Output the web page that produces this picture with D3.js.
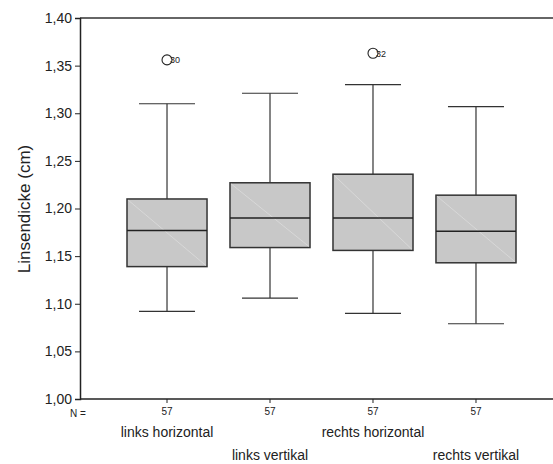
<!DOCTYPE html>
<html><head><meta charset="utf-8">
<script src="https://cdn.jsdelivr.net/npm/d3@7"></script>
<style>body{margin:0;background:#fff}svg{display:block}text{font-family:"Liberation Sans",Arial,sans-serif;fill:#222}</style>
</head><body><svg id="c" width="553" height="464"></svg>
<script>
const categories = ["links horizontal","links vertikal","rechts horizontal","rechts vertikal"];
const nValues = [57,57,57,57];
const whiskerLow = [1.092,1.106,1.090,1.079];
const q1 = [1.139,1.159,1.156,1.143];
const median = [1.177,1.190,1.190,1.176];
const q3 = [1.210,1.227,1.236,1.214];
const whiskerHigh = [1.310,1.321,1.330,1.307];
const outliers = [{cat:0,value:1.356,label:"30"},{cat:2,value:1.363,label:"32"}];
const yTicks = [1.00,1.05,1.10,1.15,1.20,1.25,1.30,1.35,1.40];

(function(){
const svg = d3.select("#c");
const mLeft = 80, mRight = 553, mTop = 18, mBottom = 399;
const y = d3.scaleLinear().domain([1.0,1.4]).range([mBottom, mTop]);
const x = d3.scaleBand().domain(categories).range([127, 516]).paddingInner(0.223).paddingOuter(0);
const fmt = d => d3.format(".2f")(d).replace(".", ",");

svg.append("line").attr("x1",mLeft).attr("x2",mRight).attr("y1",mTop).attr("y2",mTop).attr("stroke","#333").attr("stroke-width",1.5);

const yAxis = svg.append("g").attr("transform",`translate(${mLeft},0)`)
  .call(d3.axisLeft(y).tickValues(yTicks).tickFormat(fmt).tickSize(5).tickPadding(3));
yAxis.select(".domain").attr("stroke","#222").attr("stroke-width",1.5);
yAxis.selectAll(".tick line").attr("stroke","#222");
yAxis.selectAll("text").attr("font-size",14).style("font-family","Liberation Sans, Arial, sans-serif").attr("fill","#222");

const xAxis = svg.append("g").attr("transform",`translate(0,${mBottom})`)
  .call(d3.axisBottom(x).tickSize(4).tickFormat((d,i)=>nValues[i]).tickPadding(5));
xAxis.select(".domain").attr("d",`M${mLeft},0H${mRight}`).attr("stroke","#222").attr("stroke-width",1.5);
xAxis.selectAll(".tick line").attr("stroke","#222");
xAxis.selectAll("text").attr("font-size",10).style("font-family","Liberation Sans, Arial, sans-serif").attr("fill","#222");

svg.append("text").attr("x",78).attr("y",417).attr("text-anchor","middle").attr("font-size",10).text("N =");

categories.forEach((c,i)=>{
  svg.append("text").attr("x",x(c)+x.bandwidth()/2).attr("y", i%2===0 ? 437 : 460)
    .attr("text-anchor","middle").attr("font-size",14).text(c);
});

svg.append("text").attr("transform","translate(30,209) rotate(-90)").attr("text-anchor","middle")
  .attr("font-size",17).text("Linsendicke (cm)");

const bw = x.bandwidth(), capW = 56;
categories.forEach((c,i)=>{
  const cx = x(c)+bw/2;
  const g = svg.append("g");
  g.append("line").attr("x1",cx).attr("x2",cx).attr("y1",y(whiskerHigh[i])).attr("y2",y(q3[i])).attr("stroke","#333").attr("stroke-width",1.2);
  g.append("line").attr("x1",cx).attr("x2",cx).attr("y1",y(q1[i])).attr("y2",y(whiskerLow[i])).attr("stroke","#333").attr("stroke-width",1.2);
  g.append("line").attr("x1",cx-capW/2).attr("x2",cx+capW/2).attr("y1",y(whiskerHigh[i])).attr("y2",y(whiskerHigh[i])).attr("stroke","#333").attr("stroke-width",1.2);
  g.append("line").attr("x1",cx-capW/2).attr("x2",cx+capW/2).attr("y1",y(whiskerLow[i])).attr("y2",y(whiskerLow[i])).attr("stroke","#333").attr("stroke-width",1.2);
  g.append("rect").attr("x",x(c)).attr("width",bw).attr("y",y(q3[i])).attr("height",y(q1[i])-y(q3[i]))
    .attr("fill","#c8c8c8").attr("stroke","#333").attr("stroke-width",1.5);
  g.append("line").attr("x1",x(c)+1).attr("y1",y(q3[i])+1).attr("x2",x(c)+bw-1).attr("y2",y(q1[i])-1)
    .attr("stroke","#e2e2e2").attr("stroke-width",0.6);
  g.append("line").attr("x1",x(c)).attr("x2",x(c)+bw).attr("y1",y(median[i])).attr("y2",y(median[i])).attr("stroke","#222").attr("stroke-width",1.5);
});

outliers.forEach(o=>{
  const cx = x(categories[o.cat])+bw/2;
  svg.append("circle").attr("cx",cx).attr("cy",y(o.value)).attr("r",5).attr("fill","none").attr("stroke","#222").attr("stroke-width",1.1);
  svg.append("text").attr("x",cx+3).attr("y",y(o.value)+3.5).attr("font-size",9).text(o.label);
});
})();
</script></body></html>
